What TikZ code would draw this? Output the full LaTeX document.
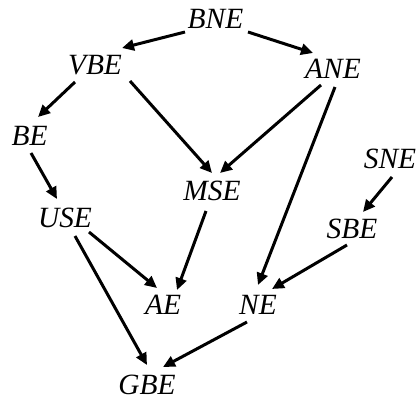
\documentclass[tikz,border=0pt]{standalone}
\usepackage{fontspec}
\setmainfont{Liberation Serif}
\usetikzlibrary{arrows.meta}
\begin{document}
\begin{tikzpicture}[x=1bp,y=-1bp,
  lbl/.style={inner sep=0pt,font=\fontsize{29.5}{32}\selectfont\itshape},
  arr/.style={line width=3bp,-{Triangle[length=12bp,width=11bp]}}]
\useasboundingbox (0,0) rectangle (416,400);
\node[lbl] (BNE) at (215.5,18.5) {BNE};
\node[lbl] (VBE) at (95,65) {VBE};
\node[lbl] (ANE) at (333,69) {ANE};
\node[lbl] (BE)  at (29.5,136) {BE};
\node[lbl] (SNE) at (390,159) {SNE};
\node[lbl] (MSE) at (212,191) {MSE};
\node[lbl] (USE) at (65,218) {USE};
\node[lbl] (SBE) at (352,229) {SBE};
\node[lbl] (AE)  at (163,305) {AE};
\node[lbl] (NE)  at (258,305) {NE};
\node[lbl] (GBE) at (147,385) {GBE};
\draw[arr] ([shift={(-30.5,13.5)}]BNE.center) -- ([shift={(27,-17)}]VBE.center);
\draw[arr] ([shift={(32.5,13.5)}]BNE.center) -- ([shift={(-20,-16)}]ANE.center);
\draw[arr] ([shift={(-20,17)}]VBE.center) -- ([shift={(8.5,-19)}]BE.center);
\draw[arr] ([shift={(35,16)}]VBE.center) -- ([shift={(0,-18)}]MSE.center);
\draw[arr] ([shift={(-12,16)}]ANE.center) -- ([shift={(8,-18)}]MSE.center);
\draw[arr] ([shift={(2,18)}]ANE.center) -- ([shift={(0,-20)}]NE.center);
\draw[arr] ([shift={(1.5,17)}]BE.center) -- ([shift={(-8,-19)}]USE.center);
\draw[arr] ([shift={(2,18)}]SNE.center) -- ([shift={(11,-17)}]SBE.center);
\draw[arr] ([shift={(-6,20)}]MSE.center) -- ([shift={(14,-15)}]AE.center);
\draw[arr] ([shift={(24,14)}]USE.center) -- ([shift={(-6,-17)}]AE.center);
\draw[arr] ([shift={(10,18)}]USE.center) -- ([shift={(0,-20)}]GBE.center);
\draw[arr] ([shift={(-5,16)}]SBE.center) -- ([shift={(14,-16)}]NE.center);
\draw[arr] ([shift={(-11,17)}]NE.center) -- ([shift={(16,-18)}]GBE.center);
\end{tikzpicture}
\end{document}
